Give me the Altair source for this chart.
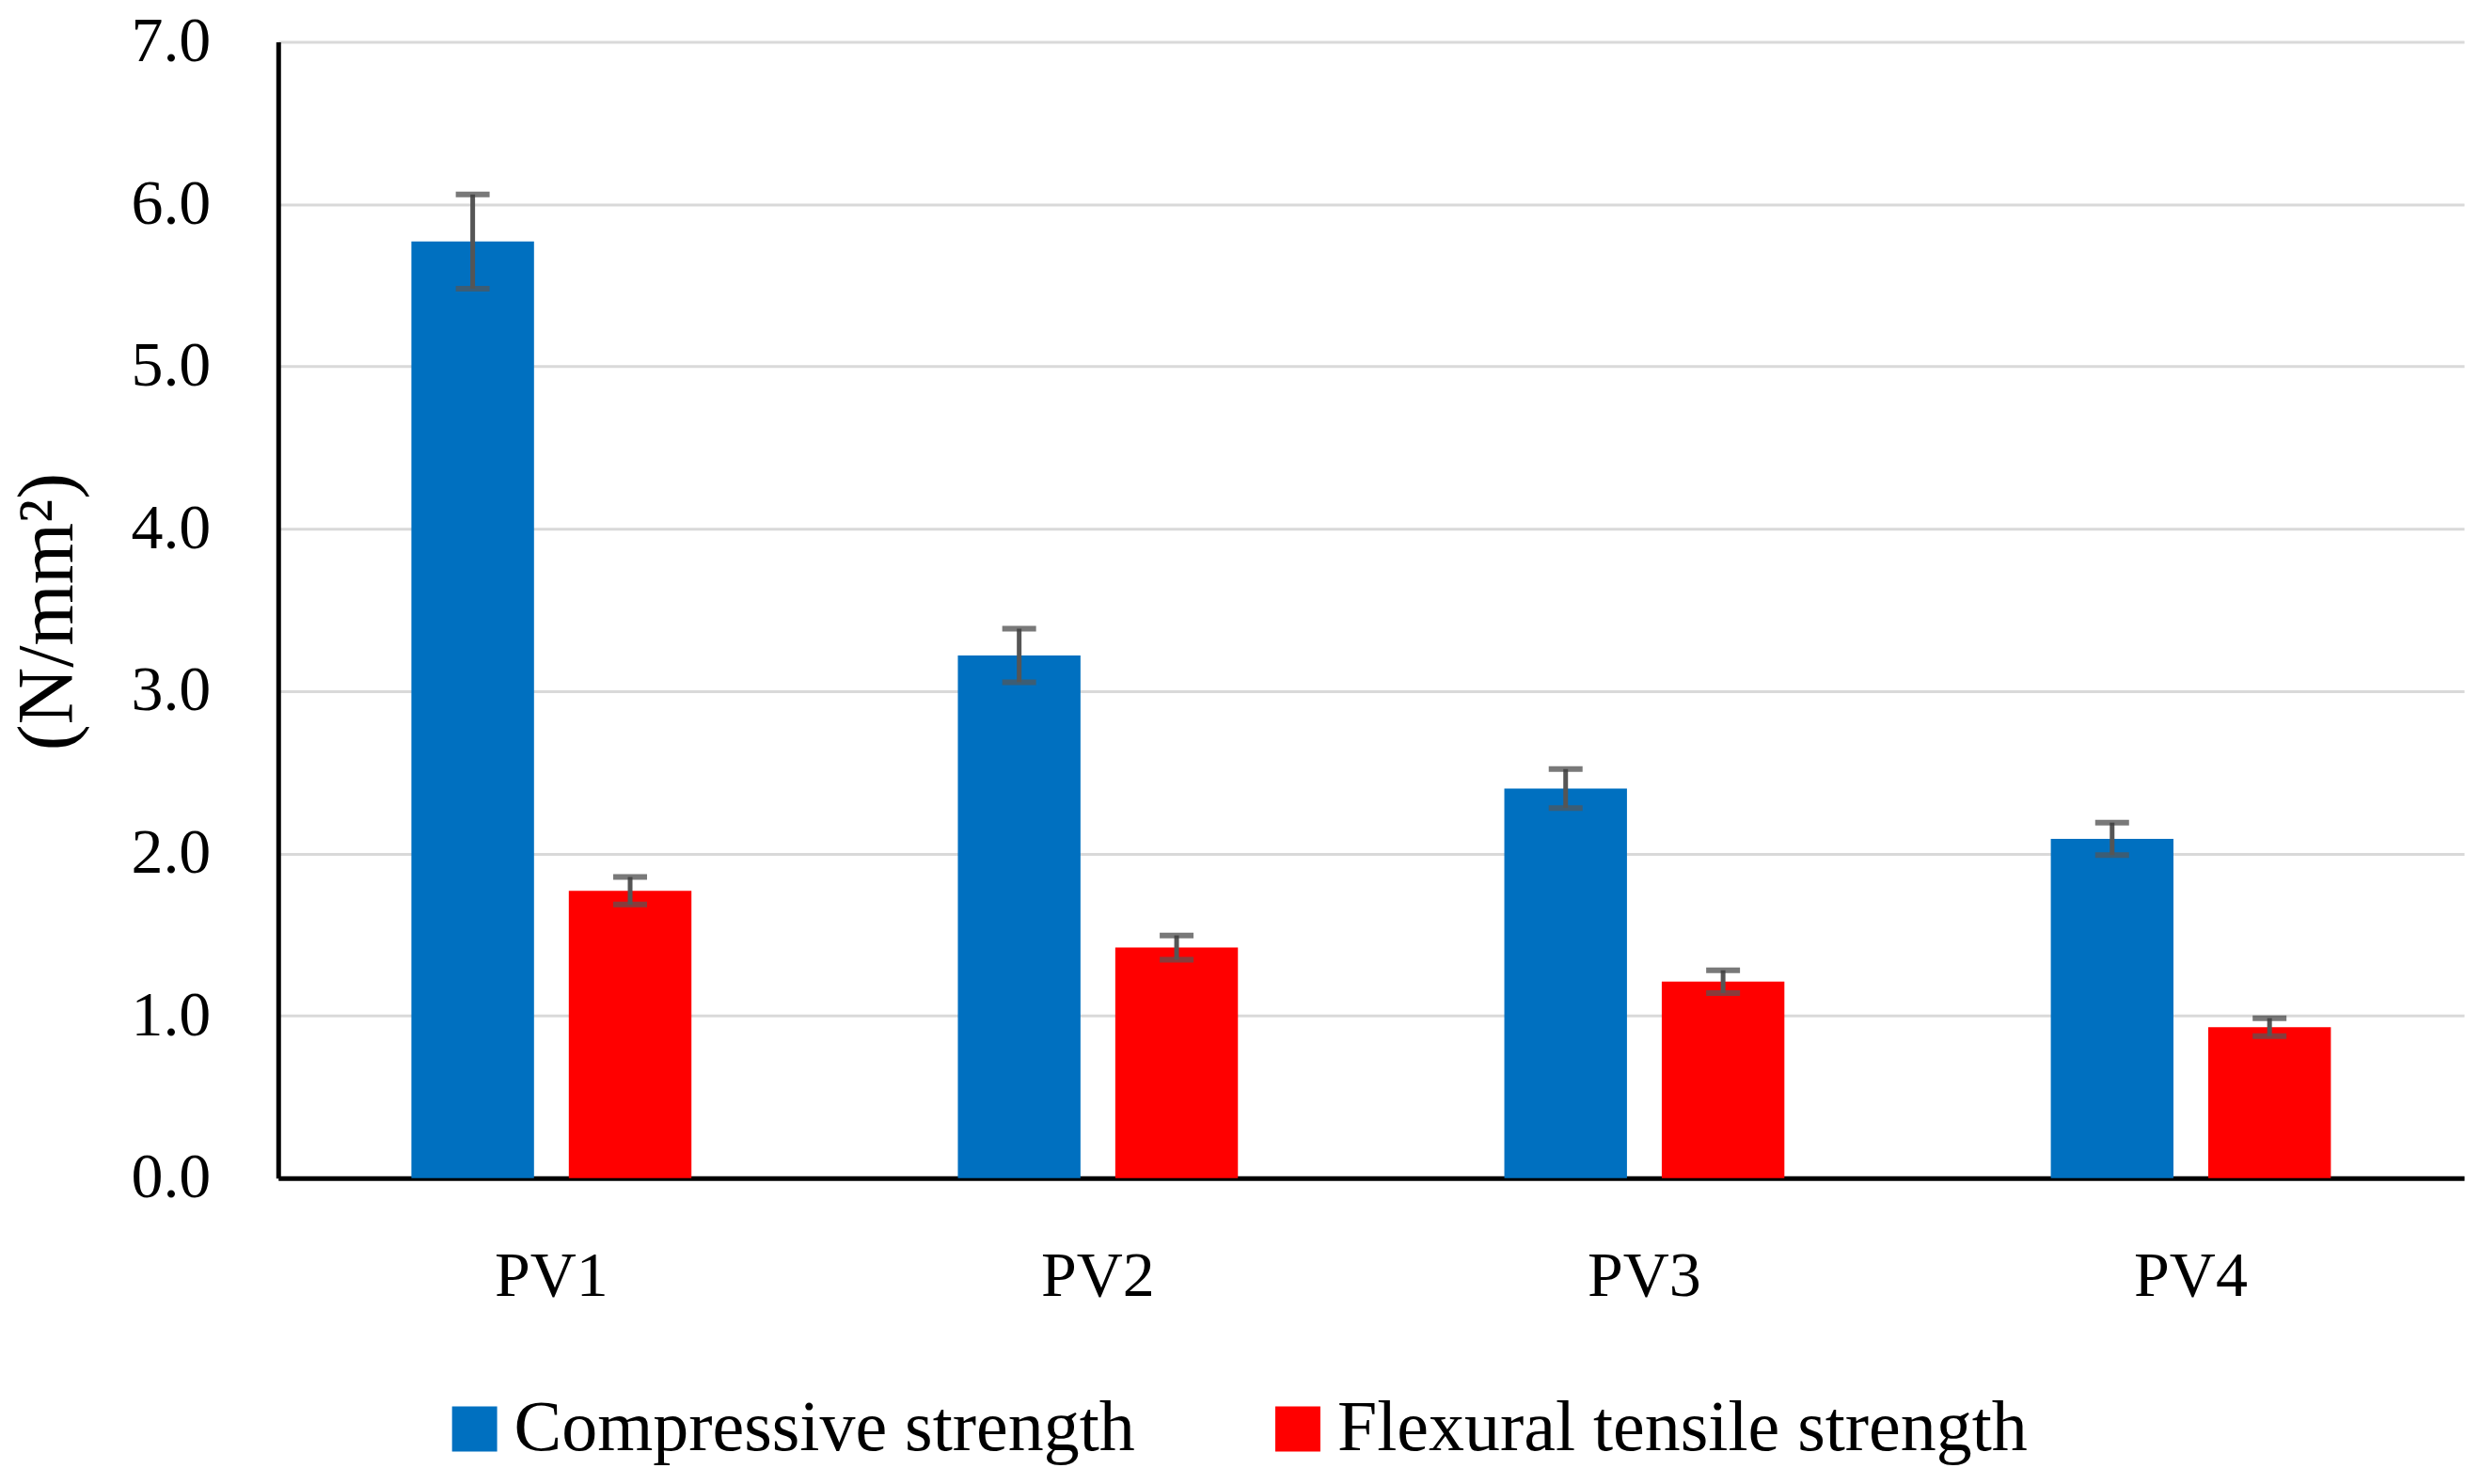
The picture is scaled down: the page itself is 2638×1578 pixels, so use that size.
import altair as alt
import pandas as pd

categories = ["PV1", "PV2", "PV3", "PV4"]
series = ["Compressive strength", "Flexural tensile strength"]
compressive = [5.77, 3.22, 2.40, 2.09]
compressive_err = [0.29, 0.165, 0.12, 0.10]
flexural = [1.77, 1.42, 1.21, 0.93]
flexural_err = [0.085, 0.075, 0.07, 0.055]
colors = ["#0070C0", "#FF0000"]
y_ticks = [0, 1, 2, 3, 4, 5, 6, 7]

rows = []
for i, c in enumerate(categories):
    for s, v, e in ((series[0], compressive[i], compressive_err[i]),
                    (series[1], flexural[i], flexural_err[i])):
        rows.append({"cat": c, "series": s, "value": v, "lo": v - e, "hi": v + e})
df = pd.DataFrame(rows)

FONT = "Liberation Serif"

x_enc = alt.X("cat:N", sort=categories, title=None,
              scale=alt.Scale(paddingInner=0.4875, paddingOuter=0.24375),
              axis=alt.Axis(labelAngle=0, labelFont=FONT, labelFontSize=68,
                            labelColor="#000000", labelBaseline="alphabetic",
                            labelPadding=125, ticks=False, domainColor="#000000",
                            domainWidth=5, grid=False))
xo_enc = alt.XOffset("series:N", sort=series,
                     scale=alt.Scale(paddingInner=0.221, paddingOuter=0))

y_scale = alt.Scale(domain=[0, 7], nice=False)

bars = alt.Chart(df).mark_bar().encode(
    x=x_enc,
    xOffset=xo_enc,
    y=alt.Y("value:Q", scale=y_scale,
            axis=alt.Axis(values=y_ticks, format=".1f", title="(N/mm²)",
                          labelFont=FONT, labelFontSize=68, labelColor="#000000",
                          labelPadding=72, ticks=False, domainColor="#000000",
                          domainWidth=5, gridColor="#d9d9d9", gridWidth=3,
                          titleFont=FONT, titleFontSize=84, titleFontWeight="normal",
                          titleColor="#000000", titleAngle=270, titleX=-219, titleY=606,
                          titleAlign="center", titleBaseline="alphabetic")),
    color=alt.Color("series:N", sort=series,
                    scale=alt.Scale(domain=series, range=colors),
                    legend=alt.Legend(title=None, orient="none", direction="horizontal",
                                      legendX=171, legendY=1438, symbolType="square",
                                      symbolSize=2300, symbolStrokeWidth=0,
                                      labelFont=FONT, labelFontSize=76,
                                      labelColor="#000000", labelOffset=4,
                                      columnPadding=135, padding=0, labelLimit=1000)),
)

stems = alt.Chart(df).mark_rule(color="#555555", strokeWidth=5).encode(
    x=alt.X("cat:N", sort=categories),
    xOffset=alt.XOffset("series:N", sort=series),
    y=alt.Y("lo:Q", scale=y_scale),
    y2="hi:Q",
)

caps_hi = alt.Chart(df).mark_tick(color="#404040", size=36, thickness=6).encode(
    x=alt.X("cat:N", sort=categories),
    xOffset=alt.XOffset("series:N", sort=series),
    y=alt.Y("hi:Q", scale=y_scale),
)
caps_lo = alt.Chart(df).mark_tick(color="#555555", size=36, thickness=6).encode(
    x=alt.X("cat:N", sort=categories),
    xOffset=alt.XOffset("series:N", sort=series),
    y=alt.Y("lo:Q", scale=y_scale),
)

chart = alt.layer(bars, stems, caps_hi, caps_lo).properties(
    width=2326, height=1209,
    autosize=alt.AutoSizeParams(type="none"),
    padding={"left": 288, "top": 36, "right": 10, "bottom": 320},
    background="white",
).configure_view(stroke=None)

chart.save("out.html", embed_options={"renderer": "svg", "actions": False})
